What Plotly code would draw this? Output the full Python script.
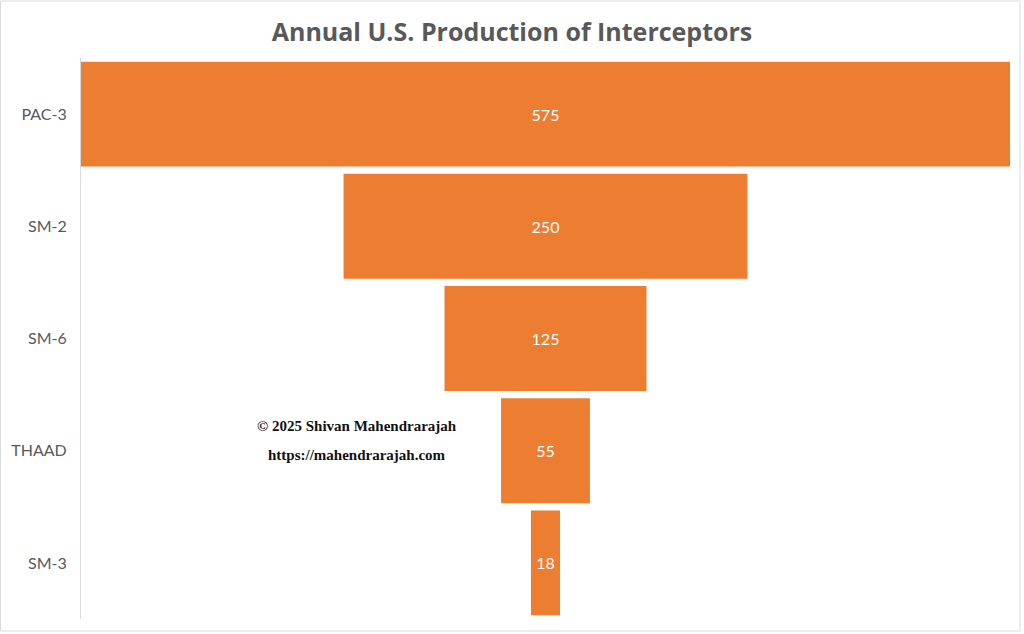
import plotly.graph_objects as go

categories = ["PAC-3", "SM-2", "SM-6", "THAAD", "SM-3"]
values = [575, 250, 125, 55, 18]
title_text = "Annual U.S. Production of Interceptors"
credit_lines = ["© 2025 Shivan Mahendrarajah", "https://mahendrarajah.com"]

W, H = 1024, 634
ML, MR, MT, MB = 81, 14, 58, 15
PW, PH = W - ML - MR, H - MT - MB

fig = go.Figure(go.Funnel(
    y=categories,
    x=values,
    textinfo="value",
    textposition="inside",
    insidetextanchor="middle",
    textfont=dict(family="Lato", size=16, color="white"),
    marker=dict(color="#ED7D31", line=dict(width=0)),
    connector=dict(visible=False),
    hoverinfo="y+x",
))

half = max(values) / 2
fig.update_layout(
    width=W, height=H,
    margin=dict(l=ML, r=MR, t=MT, b=MB, autoexpand=False),
    paper_bgcolor="white",
    plot_bgcolor="white",
    funnelgap=0.065,
    showlegend=False,
    title=dict(text=title_text, x=0.5, xanchor="center", y=1 - 32 / H, yanchor="middle",
               font=dict(family="Open Sans", size=25, color="#595959", weight="bold")),
    xaxis=dict(visible=False, range=[-half, half], automargin=False),
    yaxis=dict(showline=True, linecolor="#D9D9D9", linewidth=1, automargin=False,
               tickfont=dict(family="Lato", size=16, color="#595959"),
               ticks="", ticklabelstandoff=10, showgrid=False, zeroline=False),
)

# credit text
for i, line in enumerate(credit_lines):
    fig.add_annotation(text=line, xref="paper", yref="paper",
                       x=(357 - ML) / PW, y=(H - MB - (426 + 29 * i)) / PH,
                       xanchor="center", yanchor="middle", showarrow=False,
                       font=dict(family="Liberation Serif", size=15, color="#111111", weight="bold"))

# outer border
fig.add_shape(type="rect", xref="paper", yref="paper",
              x0=(0.5 - ML) / PW, x1=(1020 - ML) / PW,
              y0=(H - MB - 631) / PH, y1=(H - MB - 1) / PH,
              line=dict(color="#D9D9D9", width=1), fillcolor="rgba(0,0,0,0)", layer="below")

fig.write_html("out.html", config={"displayModeBar": False},
               post_script="document.body.style.margin='0';document.body.style.overflow='hidden';")
